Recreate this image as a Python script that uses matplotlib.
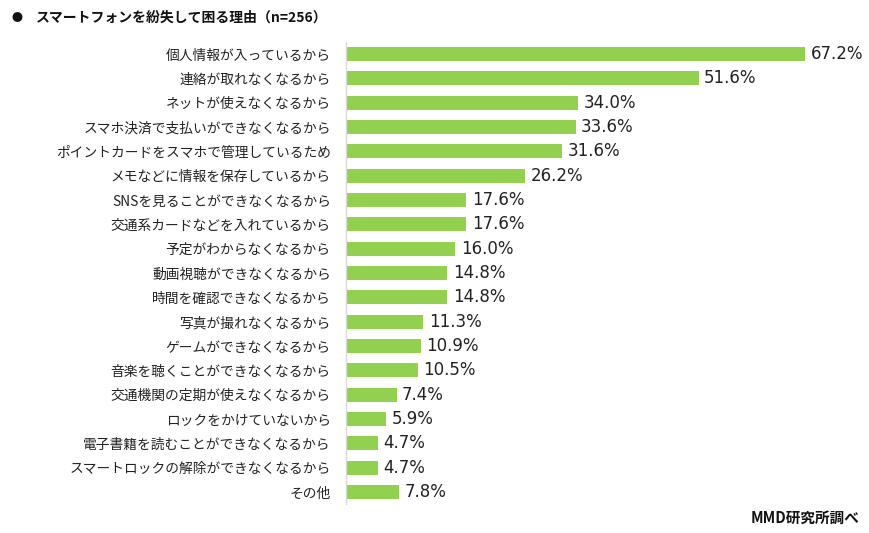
import matplotlib
matplotlib.use("Agg")
import matplotlib.pyplot as plt

plt.rcParams['font.family'] = ['Noto Sans CJK JP', 'DejaVu Sans']

reasons = [
    "個人情報が入っているから",
    "連絡が取れなくなるから",
    "ネットが使えなくなるから",
    "スマホ決済で支払いができなくなるから",
    "ポイントカードをスマホで管理しているため",
    "メモなどに情報を保存しているから",
    "SNSを見ることができなくなるから",
    "交通系カードなどを入れているから",
    "予定がわからなくなるから",
    "動画視聴ができなくなるから",
    "時間を確認できなくなるから",
    "写真が撮れなくなるから",
    "ゲームができなくなるから",
    "音楽を聴くことができなくなるから",
    "交通機関の定期が使えなくなるから",
    "ロックをかけていないから",
    "電子書籍を読むことができなくなるから",
    "スマートロックの解除ができなくなるから",
    "その他",
]
values = [67.2, 51.6, 34.0, 33.6, 31.6, 26.2, 17.6, 17.6, 16.0, 14.8,
          14.8, 11.3, 10.9, 10.5, 7.4, 5.9, 4.7, 4.7, 7.8]

fig = plt.figure(figsize=(8.7, 5.33), dpi=100)
ax = fig.add_axes([0.3977, 0.054, 0.55, 0.8674])

y = list(range(len(values)))
ax.barh(y, values, height=0.58, color="#92d050")
ax.set_ylim(len(values) - 0.5, -0.5)
ax.set_xlim(0, 70)

for i, v in enumerate(values):
    ax.text(v + 0.8, i, f"{v:.1f}%", va="center", ha="left",
            fontsize=12, family=["DejaVu Sans"], color="#222222")

ax.set_yticks(y)
ax.set_yticklabels(reasons, fontsize=9.9, color="#222222")
ax.tick_params(axis="y", length=0, pad=11)
ax.set_xticks([])
for s in ["top", "right", "bottom"]:
    ax.spines[s].set_visible(False)
ax.spines["left"].set_color("#d9d9d9")
ax.spines["left"].set_linewidth(1)

fig.text(12 / 870, 1 - 18 / 533, "●", fontsize=8, va="center", ha="left", color="#111111")
fig.text(36 / 870, 1 - 18 / 533, "スマートフォンを紛失して困る理由（n=256）",
         fontsize=10, fontweight="bold", va="center", ha="left", color="#111111")
fig.text(860 / 870, 1 - 518 / 533, "MMD研究所調べ", fontsize=10.5,
         fontweight="bold", va="center", ha="right", color="#111111")

fig.savefig("out.png", dpi=100)
